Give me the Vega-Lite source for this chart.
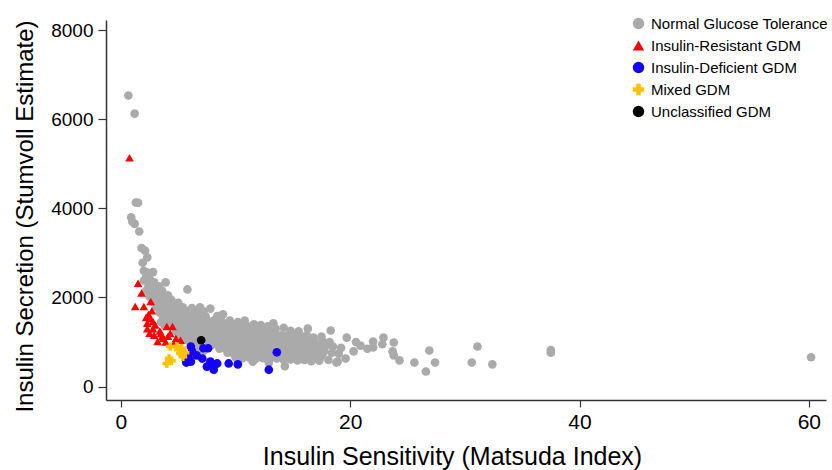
{
  "$schema": "https://vega.github.io/schema/vega-lite/v6.json",
  "autosize": "none",
  "width": 720,
  "height": 380,
  "padding": {"left": 106, "top": 20, "right": 6, "bottom": 70},
  "background": "white",
  "config": {"font": "Liberation Sans", "view": {"stroke": null}},
  "data": {"values": [
    {"x":0.65,"y":6530,"g":"N"},{"x":1.2,"y":6125,"g":"N"},{"x":1.3,"y":4130,"g":"N"},{"x":1.5,"y":4125,"g":"N"},{"x":0.9,"y":3800,"g":"N"},{"x":1.0,"y":3700,"g":"N"},{"x":1.2,"y":3650,"g":"N"},{"x":1.6,"y":3480,"g":"N"},{"x":1.8,"y":3110,"g":"N"},{"x":2.1,"y":3050,"g":"N"},{"x":2.3,"y":2900,"g":"N"},{"x":1.9,"y":2780,"g":"N"},{"x":2.0,"y":2600,"g":"N"},{"x":2.3,"y":2560,"g":"N"},{"x":2.8,"y":2570,"g":"N"},{"x":2.2,"y":2480,"g":"N"},{"x":2.5,"y":2420,"g":"N"},{"x":2.0,"y":2380,"g":"N"},{"x":2.9,"y":2340,"g":"N"},{"x":3.9,"y":2340,"g":"N"},{"x":2.4,"y":2250,"g":"N"},{"x":2.8,"y":2200,"g":"N"},{"x":3.3,"y":2250,"g":"N"},{"x":2.2,"y":2150,"g":"N"},{"x":2.6,"y":2100,"g":"N"},{"x":3.1,"y":2120,"g":"N"},{"x":3.6,"y":2150,"g":"N"},{"x":2.5,"y":2020,"g":"N"},{"x":3.0,"y":1980,"g":"N"},{"x":3.5,"y":2000,"g":"N"},{"x":4.1,"y":2050,"g":"N"},{"x":2.8,"y":1900,"g":"N"},{"x":3.3,"y":1880,"g":"N"},{"x":3.8,"y":1920,"g":"N"},{"x":4.4,"y":1950,"g":"N"},{"x":3.1,"y":1780,"g":"N"},{"x":3.6,"y":1760,"g":"N"},{"x":4.1,"y":1800,"g":"N"},{"x":4.6,"y":1850,"g":"N"},{"x":5.0,"y":1880,"g":"N"},{"x":3.4,"y":1660,"g":"N"},{"x":3.9,"y":1680,"g":"N"},{"x":4.4,"y":1700,"g":"N"},{"x":4.9,"y":1720,"g":"N"},{"x":5.4,"y":1780,"g":"N"},{"x":5.8,"y":2180,"g":"N"},{"x":3.7,"y":1560,"g":"N"},{"x":4.2,"y":1580,"g":"N"},{"x":4.7,"y":1600,"g":"N"},{"x":5.2,"y":1640,"g":"N"},{"x":5.7,"y":1700,"g":"N"},{"x":6.2,"y":1760,"g":"N"},{"x":3.5,"y":1450,"g":"N"},{"x":4.0,"y":1470,"g":"N"},{"x":4.5,"y":1500,"g":"N"},{"x":5.0,"y":1520,"g":"N"},{"x":5.5,"y":1560,"g":"N"},{"x":6.0,"y":1600,"g":"N"},{"x":6.6,"y":1650,"g":"N"},{"x":7.2,"y":1690,"g":"N"},{"x":3.8,"y":1380,"g":"N"},{"x":4.3,"y":1400,"g":"N"},{"x":4.8,"y":1420,"g":"N"},{"x":5.3,"y":1440,"g":"N"},{"x":5.8,"y":1470,"g":"N"},{"x":6.3,"y":1500,"g":"N"},{"x":6.8,"y":1540,"g":"N"},{"x":7.4,"y":1570,"g":"N"},{"x":8.4,"y":1580,"g":"N"},{"x":9.1,"y":1420,"g":"N"},{"x":5.6,"y":1350,"g":"N"},{"x":6.1,"y":1380,"g":"N"},{"x":6.6,"y":1400,"g":"N"},{"x":7.1,"y":1430,"g":"N"},{"x":7.6,"y":1460,"g":"N"},{"x":8.1,"y":1480,"g":"N"},{"x":8.7,"y":1500,"g":"N"},{"x":9.5,"y":1480,"g":"N"},{"x":10.2,"y":1450,"g":"N"},{"x":5.4,"y":1250,"g":"N"},{"x":5.9,"y":1280,"g":"N"},{"x":6.4,"y":1300,"g":"N"},{"x":6.9,"y":1320,"g":"N"},{"x":7.4,"y":1340,"g":"N"},{"x":7.9,"y":1360,"g":"N"},{"x":8.4,"y":1380,"g":"N"},{"x":8.9,"y":1390,"g":"N"},{"x":9.4,"y":1380,"g":"N"},{"x":9.9,"y":1370,"g":"N"},{"x":10.5,"y":1380,"g":"N"},{"x":11.0,"y":1360,"g":"N"},{"x":11.6,"y":1400,"g":"N"},{"x":12.2,"y":1380,"g":"N"},{"x":12.8,"y":1350,"g":"N"},{"x":6.2,"y":1180,"g":"N"},{"x":6.7,"y":1200,"g":"N"},{"x":7.2,"y":1220,"g":"N"},{"x":7.7,"y":1240,"g":"N"},{"x":8.2,"y":1260,"g":"N"},{"x":8.7,"y":1270,"g":"N"},{"x":9.2,"y":1280,"g":"N"},{"x":9.7,"y":1270,"g":"N"},{"x":10.2,"y":1280,"g":"N"},{"x":10.7,"y":1270,"g":"N"},{"x":11.2,"y":1260,"g":"N"},{"x":11.7,"y":1280,"g":"N"},{"x":12.3,"y":1270,"g":"N"},{"x":12.9,"y":1260,"g":"N"},{"x":13.5,"y":1300,"g":"N"},{"x":14.2,"y":1320,"g":"N"},{"x":14.8,"y":1250,"g":"N"},{"x":15.5,"y":1240,"g":"N"},{"x":16.3,"y":1300,"g":"N"},{"x":6.5,"y":1100,"g":"N"},{"x":7.0,"y":1110,"g":"N"},{"x":7.5,"y":1130,"g":"N"},{"x":8.0,"y":1150,"g":"N"},{"x":8.5,"y":1160,"g":"N"},{"x":9.0,"y":1170,"g":"N"},{"x":9.5,"y":1160,"g":"N"},{"x":10.0,"y":1170,"g":"N"},{"x":10.5,"y":1160,"g":"N"},{"x":11.0,"y":1150,"g":"N"},{"x":11.5,"y":1170,"g":"N"},{"x":12.0,"y":1160,"g":"N"},{"x":12.5,"y":1150,"g":"N"},{"x":13.0,"y":1160,"g":"N"},{"x":13.5,"y":1170,"g":"N"},{"x":14.0,"y":1150,"g":"N"},{"x":14.5,"y":1140,"g":"N"},{"x":15.0,"y":1150,"g":"N"},{"x":15.6,"y":1130,"g":"N"},{"x":16.2,"y":1150,"g":"N"},{"x":16.8,"y":1100,"g":"N"},{"x":17.5,"y":1120,"g":"N"},{"x":18.3,"y":1260,"g":"N"},{"x":19.7,"y":1100,"g":"N"},{"x":7.6,"y":1030,"g":"N"},{"x":8.1,"y":1050,"g":"N"},{"x":8.6,"y":1060,"g":"N"},{"x":9.1,"y":1070,"g":"N"},{"x":9.6,"y":1060,"g":"N"},{"x":10.1,"y":1070,"g":"N"},{"x":10.6,"y":1060,"g":"N"},{"x":11.1,"y":1050,"g":"N"},{"x":11.6,"y":1060,"g":"N"},{"x":12.1,"y":1050,"g":"N"},{"x":12.6,"y":1040,"g":"N"},{"x":13.1,"y":1050,"g":"N"},{"x":13.6,"y":1060,"g":"N"},{"x":14.1,"y":1040,"g":"N"},{"x":14.6,"y":1030,"g":"N"},{"x":15.1,"y":1040,"g":"N"},{"x":15.7,"y":1020,"g":"N"},{"x":16.3,"y":1030,"g":"N"},{"x":16.9,"y":1000,"g":"N"},{"x":17.6,"y":1010,"g":"N"},{"x":18.2,"y":1000,"g":"N"},{"x":7.9,"y":930,"g":"N"},{"x":8.4,"y":950,"g":"N"},{"x":8.9,"y":960,"g":"N"},{"x":9.4,"y":950,"g":"N"},{"x":9.9,"y":960,"g":"N"},{"x":10.4,"y":950,"g":"N"},{"x":10.9,"y":940,"g":"N"},{"x":11.4,"y":950,"g":"N"},{"x":11.9,"y":940,"g":"N"},{"x":12.4,"y":930,"g":"N"},{"x":12.9,"y":940,"g":"N"},{"x":13.4,"y":950,"g":"N"},{"x":13.9,"y":930,"g":"N"},{"x":14.4,"y":920,"g":"N"},{"x":14.9,"y":930,"g":"N"},{"x":15.4,"y":920,"g":"N"},{"x":16.0,"y":910,"g":"N"},{"x":16.6,"y":920,"g":"N"},{"x":17.2,"y":900,"g":"N"},{"x":17.8,"y":890,"g":"N"},{"x":18.5,"y":900,"g":"N"},{"x":19.2,"y":870,"g":"N"},{"x":8.6,"y":850,"g":"N"},{"x":9.1,"y":860,"g":"N"},{"x":9.6,"y":850,"g":"N"},{"x":10.1,"y":840,"g":"N"},{"x":10.6,"y":850,"g":"N"},{"x":11.1,"y":840,"g":"N"},{"x":11.6,"y":830,"g":"N"},{"x":12.1,"y":840,"g":"N"},{"x":12.6,"y":830,"g":"N"},{"x":13.1,"y":820,"g":"N"},{"x":13.6,"y":830,"g":"N"},{"x":14.1,"y":820,"g":"N"},{"x":14.6,"y":810,"g":"N"},{"x":15.2,"y":820,"g":"N"},{"x":15.8,"y":800,"g":"N"},{"x":16.4,"y":790,"g":"N"},{"x":17.0,"y":800,"g":"N"},{"x":17.7,"y":780,"g":"N"},{"x":18.4,"y":760,"g":"N"},{"x":19.0,"y":740,"g":"N"},{"x":9.3,"y":760,"g":"N"},{"x":9.8,"y":750,"g":"N"},{"x":10.3,"y":740,"g":"N"},{"x":10.8,"y":740,"g":"N"},{"x":11.3,"y":730,"g":"N"},{"x":11.8,"y":740,"g":"N"},{"x":12.3,"y":720,"g":"N"},{"x":12.8,"y":730,"g":"N"},{"x":13.3,"y":710,"g":"N"},{"x":13.8,"y":720,"g":"N"},{"x":14.3,"y":700,"g":"N"},{"x":14.9,"y":710,"g":"N"},{"x":15.5,"y":690,"g":"N"},{"x":16.1,"y":700,"g":"N"},{"x":16.8,"y":680,"g":"N"},{"x":17.5,"y":690,"g":"N"},{"x":10.0,"y":660,"g":"N"},{"x":10.6,"y":640,"g":"N"},{"x":11.2,"y":650,"g":"N"},{"x":11.8,"y":630,"g":"N"},{"x":12.4,"y":640,"g":"N"},{"x":13.0,"y":620,"g":"N"},{"x":13.6,"y":630,"g":"N"},{"x":14.2,"y":600,"g":"N"},{"x":14.8,"y":610,"g":"N"},{"x":15.4,"y":590,"g":"N"},{"x":16.0,"y":600,"g":"N"},{"x":16.6,"y":570,"g":"N"},{"x":17.3,"y":580,"g":"N"},{"x":18.1,"y":600,"g":"N"},{"x":18.9,"y":560,"g":"N"},{"x":19.6,"y":630,"g":"N"},{"x":14.3,"y":460,"g":"N"},{"x":11.5,"y":560,"g":"N"},{"x":12.9,"y":530,"g":"N"},{"x":5.0,"y":1100,"g":"N"},{"x":5.5,"y":1050,"g":"N"},{"x":6.0,"y":1000,"g":"N"},{"x":6.4,"y":930,"g":"N"},{"x":6.8,"y":880,"g":"N"},{"x":7.2,"y":800,"g":"N"},{"x":6.0,"y":1130,"g":"N"},{"x":5.6,"y":1180,"g":"N"},{"x":4.8,"y":1250,"g":"N"},{"x":5.1,"y":1320,"g":"N"},{"x":18.8,"y":540,"g":"N"},{"x":20.3,"y":790,"g":"N"},{"x":20.9,"y":920,"g":"N"},{"x":22.0,"y":1010,"g":"N"},{"x":22.0,"y":880,"g":"N"},{"x":22.9,"y":1100,"g":"N"},{"x":22.8,"y":950,"g":"N"},{"x":23.8,"y":990,"g":"N"},{"x":23.7,"y":790,"g":"N"},{"x":23.8,"y":700,"g":"N"},{"x":24.3,"y":590,"g":"N"},{"x":25.6,"y":540,"g":"N"},{"x":26.9,"y":810,"g":"N"},{"x":27.4,"y":540,"g":"N"},{"x":26.6,"y":340,"g":"N"},{"x":31.1,"y":900,"g":"N"},{"x":30.6,"y":540,"g":"N"},{"x":32.4,"y":500,"g":"N"},{"x":37.5,"y":820,"g":"N"},{"x":37.5,"y":760,"g":"N"},{"x":60.2,"y":660,"g":"N"},{"x":21.5,"y":850,"g":"N"},{"x":20.5,"y":1000,"g":"N"},{"x":7.8,"y":1750,"g":"N"},{"x":6.9,"y":1780,"g":"N"},{"x":8.9,"y":1620,"g":"N"},{"x":10.8,"y":1480,"g":"N"},{"x":13.3,"y":1420,"g":"N"},
    {"x":0.75,"y":5135,"g":"R"},{"x":1.5,"y":2320,"g":"R"},{"x":1.8,"y":2100,"g":"R"},{"x":1.25,"y":1800,"g":"R"},{"x":2.0,"y":1800,"g":"R"},{"x":2.6,"y":1910,"g":"R"},{"x":2.4,"y":1620,"g":"R"},{"x":2.6,"y":1530,"g":"R"},{"x":2.3,"y":1420,"g":"R"},{"x":2.8,"y":1460,"g":"R"},{"x":2.3,"y":1300,"g":"R"},{"x":2.8,"y":1300,"g":"R"},{"x":2.5,"y":1200,"g":"R"},{"x":3.5,"y":1190,"g":"R"},{"x":4.0,"y":1350,"g":"R"},{"x":4.5,"y":1350,"g":"R"},{"x":3.2,"y":1010,"g":"R"},{"x":3.7,"y":1080,"g":"R"},{"x":4.1,"y":1130,"g":"R"},{"x":4.8,"y":1080,"g":"R"},{"x":5.2,"y":1040,"g":"R"},{"x":3.4,"y":1250,"g":"R"},{"x":4.3,"y":1200,"g":"R"},{"x":2.7,"y":1700,"g":"R"},{"x":2.2,"y":1550,"g":"R"},{"x":3.0,"y":1380,"g":"R"},{"x":3.9,"y":1000,"g":"R"},{"x":4.6,"y":950,"g":"R"},{"x":3.6,"y":1120,"g":"R"},{"x":2.9,"y":1150,"g":"R"},
    {"x":6.1,"y":900,"g":"D"},{"x":6.2,"y":800,"g":"D"},{"x":5.9,"y":650,"g":"D"},{"x":5.7,"y":540,"g":"D"},{"x":6.1,"y":560,"g":"D"},{"x":7.2,"y":860,"g":"D"},{"x":7.6,"y":860,"g":"D"},{"x":7.1,"y":630,"g":"D"},{"x":7.5,"y":450,"g":"D"},{"x":8.1,"y":380,"g":"D"},{"x":8.2,"y":500,"g":"D"},{"x":8.4,"y":520,"g":"D"},{"x":9.4,"y":520,"g":"D"},{"x":10.2,"y":500,"g":"D"},{"x":13.6,"y":770,"g":"D"},{"x":12.9,"y":380,"g":"D"},{"x":6.6,"y":700,"g":"D"},{"x":7.8,"y":560,"g":"D"},
    {"x":4.3,"y":900,"g":"M"},{"x":5.0,"y":830,"g":"M"},{"x":5.2,"y":740,"g":"M"},{"x":5.4,"y":670,"g":"M"},{"x":4.2,"y":630,"g":"M"},{"x":4.0,"y":520,"g":"M"},{"x":5.3,"y":860,"g":"M"},{"x":4.9,"y":900,"g":"M"},{"x":5.6,"y":760,"g":"M"},{"x":4.4,"y":580,"g":"M"},
    {"x":7.0,"y":1040,"g":"U"}
  ]},
  "mark": {"type": "point", "filled": true, "opacity": 1, "size": 75},
  "encoding": {
    "x": {"field": "x", "type": "quantitative",
      "scale": {"domain": [-1.3, 61.5], "nice": false, "zero": false},
      "axis": {"values": [0, 20, 40, 60], "grid": false, "title": "Insulin Sensitivity (Matsuda Index)",
        "titleFontSize": 25, "titleFontWeight": "normal", "titleColor": "black", "titlePadding": 12, "titleX": 346,
        "labelFontSize": 21, "labelColor": "black", "labelPadding": 4,
        "tickSize": 7, "tickColor": "#333", "domainColor": "#333", "domainWidth": 1.5, "tickWidth": 1.2}},
    "y": {"field": "y", "type": "quantitative",
      "scale": {"domain": [-300, 8225], "nice": false, "zero": false},
      "axis": {"values": [0, 2000, 4000, 6000, 8000], "format": "d", "grid": false, "title": "Insulin Secretion (Stumvoll Estimate)",
        "titleFontSize": 24, "titleFontWeight": "normal", "titleColor": "black", "titlePadding": 13, "titleY": 196,
        "labelFontSize": 19, "labelColor": "black", "labelPadding": 5,
        "tickSize": 8, "tickColor": "#333", "domainColor": "#333", "domainWidth": 1.5, "tickWidth": 1.2}},
    "color": {"field": "g", "type": "nominal",
      "scale": {"domain": ["N", "R", "D", "M", "U"], "range": ["#aaaaaa", "#ff0000", "#1400ff", "#ffc000", "#000000"]},
      "legend": {"title": null, "orient": "none", "legendX": 525, "legendY": -4, "padding": 0,
        "labelFontSize": 15, "labelColor": "black", "labelLimit": 400, "symbolSize": 130, "rowPadding": 6, "labelOffset": 5,
        "labelExpr": "datum.label == 'N' ? 'Normal Glucose Tolerance' : datum.label == 'R' ? 'Insulin-Resistant GDM' : datum.label == 'D' ? 'Insulin-Deficient GDM' : datum.label == 'M' ? 'Mixed GDM' : 'Unclassified GDM'"}},
    "shape": {"field": "g", "type": "nominal",
      "scale": {"domain": ["N", "R", "D", "M", "U"], "range": ["circle", "triangle-up", "circle", "cross", "circle"]}}
  }
}
